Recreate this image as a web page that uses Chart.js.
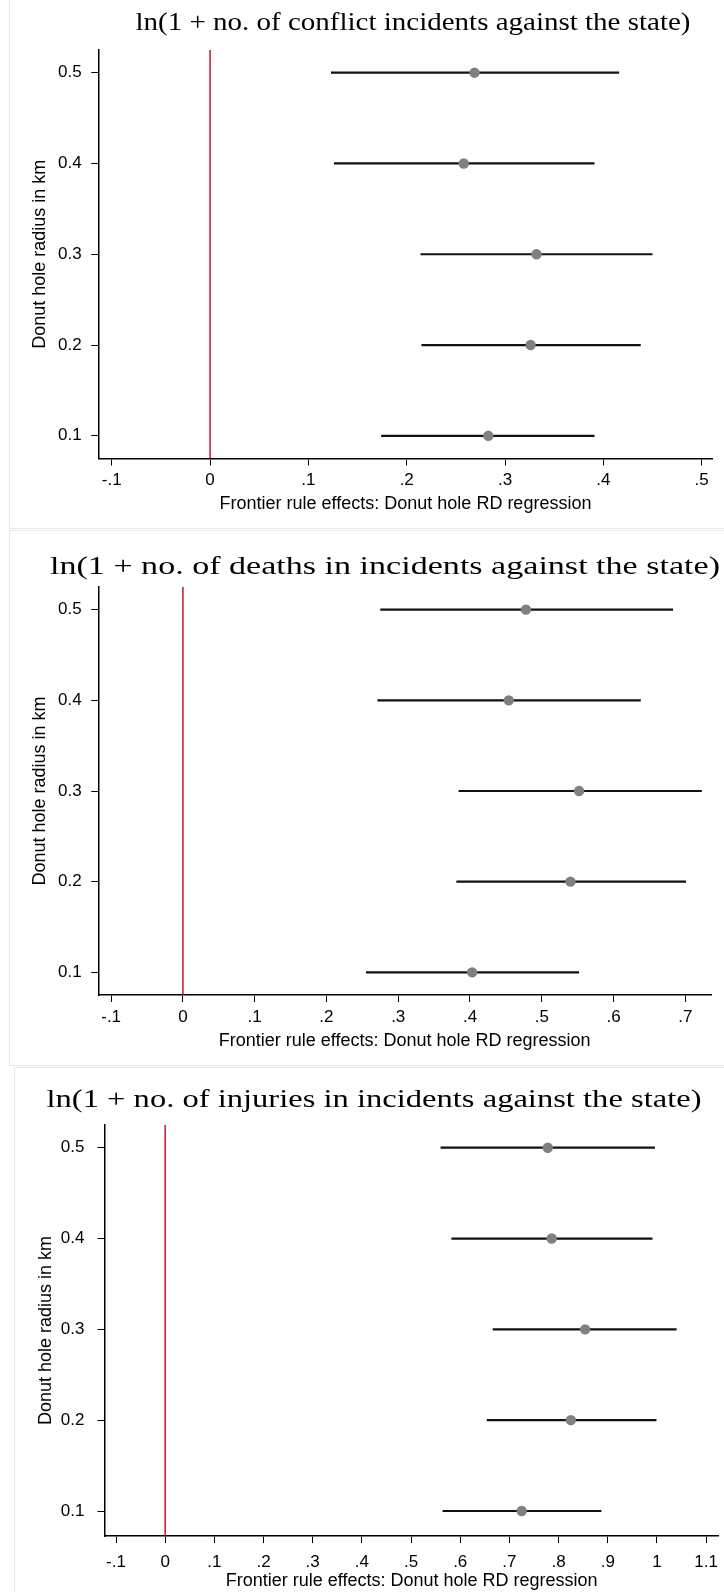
<!DOCTYPE html>
<html>
<head>
<meta charset="utf-8">
<script src="https://cdn.jsdelivr.net/npm/chart.js@4.4.1/dist/chart.umd.min.js"></script>
<style>
  html, body { margin: 0; padding: 0; background: #fff; }
  body { width: 724px; height: 1592px; position: relative; overflow: hidden; }
  .marco { position: absolute; border: 1px solid #e3e9ec; box-sizing: border-box; }
  canvas { position: absolute; left: 0; }
  .titulo { position: absolute; font-family: "Liberation Serif", serif; font-size: 26px; white-space: nowrap; color: #000; line-height: 1; transform-origin: 50% 50%; }
</style>
</head>
<body>
<div class="marco" style="left:9px; top:-2px; width:800px; height:531px;"></div>
<div class="marco" style="left:9px; top:530px; width:800px; height:536px;"></div>
<div class="marco" style="left:14px; top:1067px; width:800px; height:600px;"></div>

<canvas id="g1" width="724" height="530" style="top:0px"></canvas>
<canvas id="g2" width="724" height="536" style="top:530px"></canvas>
<canvas id="g3" width="724" height="526" style="top:1066px"></canvas>

<div class="titulo" id="t1" style="left:413px; top:22px;">ln(1 + no. of conflict incidents against the state)</div>
<div class="titulo" id="t2" style="left:385px; top:566px;">ln(1 + no. of deaths in incidents against the state)</div>
<div class="titulo" id="t3" style="left:374px; top:1099px;">ln(1 + no. of injuries in incidents against the state)</div>

<script>
// radio del hoyo (eje y)
const radios = [0.1, 0.2, 0.3, 0.4, 0.5];
const etiquetasY = ["0.1", "0.2", "0.3", "0.4", "0.5"];

// panel 1: incidentes de conflicto
const conflictoEst = [0.283, 0.326, 0.332, 0.258, 0.269];
const conflictoLo  = [0.174, 0.215, 0.214, 0.126, 0.123];
const conflictoHi  = [0.391, 0.438, 0.450, 0.391, 0.416];

// panel 2: muertes
const muertesEst = [0.403, 0.540, 0.552, 0.454, 0.478];
const muertesLo  = [0.255, 0.381, 0.384, 0.271, 0.275];
const muertesHi  = [0.552, 0.701, 0.723, 0.638, 0.683];

// panel 3: heridos
const heridosEst = [0.725, 0.825, 0.854, 0.786, 0.778];
const heridosLo  = [0.564, 0.654, 0.666, 0.582, 0.560];
const heridosHi  = [0.887, 0.999, 1.040, 0.991, 0.996];

const ticksX1 = [-0.1, 0, 0.1, 0.2, 0.3, 0.4, 0.5];
const etiquetasX1 = ["-.1", "0", ".1", ".2", ".3", ".4", ".5"];
const ticksX2 = [-0.1, 0, 0.1, 0.2, 0.3, 0.4, 0.5, 0.6, 0.7];
const etiquetasX2 = ["-.1", "0", ".1", ".2", ".3", ".4", ".5", ".6", ".7"];
const ticksX3 = [-0.1, 0, 0.1, 0.2, 0.3, 0.4, 0.5, 0.6, 0.7, 0.8, 0.9, 1, 1.1];
const etiquetasX3 = ["-.1", "0", ".1", ".2", ".3", ".4", ".5", ".6", ".7", ".8", ".9", "1", "1.1"];

const lineaCero = 0;
const tituloX = "Frontier rule effects: Donut hole RD regression";
const tituloY = "Donut hole radius in km";

Chart.defaults.font.family = "'Liberation Sans', Arial, sans-serif";
Chart.defaults.color = "#000";

// estira el titulo a lo ancho sin cambiar su alto
function ajustarTitulo(id, ancho) {
    const el = document.getElementById(id);
    const w = el.getBoundingClientRect().width;
    el.style.transform = "translate(-50%, -50%) scaleX(" + (ancho / w) + ")";
}

function dibujarPanel(id, p) {
    const datasets = [];

    datasets.push({
        type: 'line',
        data: [{ x: lineaCero, y: p.yMin }, { x: lineaCero, y: p.yMax }],
        borderColor: '#c8102e',
        borderWidth: 1.5,
        pointRadius: 0,
        showLine: true,
        order: 3
    });

    radios.forEach((r, i) => {
        datasets.push({
            type: 'line',
            data: [{ x: p.lo[i], y: r }, { x: p.hi[i], y: r }],
            borderColor: '#111',
            borderWidth: 2.2,
            pointRadius: 0,
            showLine: true,
            order: 2
        });
    });

    datasets.push({
        type: 'scatter',
        data: radios.map((r, i) => ({ x: p.est[i], y: r })),
        backgroundColor: '#808080',
        borderWidth: 0,
        pointRadius: 5.2,
        order: 1
    });

    const alto = document.getElementById(id).height;

    new Chart(document.getElementById(id), {
        type: 'scatter',
        data: { datasets },
        options: {
            responsive: false,
            animation: false,
            events: [],
            layout: { padding: { top: p.top, right: 724 - p.right, left: 0, bottom: 0 } },
            plugins: { legend: { display: false }, tooltip: { enabled: false } },
            scales: {
                x: {
                    type: 'linear',
                    min: p.xMin,
                    max: p.xMax,
                    afterBuildTicks: s => { s.ticks = p.ticks.map(v => ({ value: v })); },
                    afterFit: s => {
                        s.height = alto - p.bottom;
                        s.paddingLeft = 0;
                        s.paddingRight = 0;
                    },
                    ticks: {
                        autoSkip: false,
                        maxRotation: 0,
                        padding: p.xPad,
                        font: { size: 17 },
                        callback: (v, i) => p.etiquetas[i]
                    },
                    grid: { drawOnChartArea: false, drawTicks: true, tickLength: 7, color: '#000', lineWidth: 1 },
                    border: { display: true, color: '#000', width: 1.5 },
                    title: {
                        display: true,
                        text: tituloX,
                        font: { size: 18 },
                        padding: { top: 0, bottom: p.xTitlePad }
                    }
                },
                y: {
                    type: 'linear',
                    min: p.yMin,
                    max: p.yMax,
                    afterBuildTicks: s => { s.ticks = radios.map(v => ({ value: v })); },
                    afterFit: s => {
                        s.width = p.left;
                        s.paddingTop = 0;
                        s.paddingBottom = 0;
                    },
                    ticks: {
                        padding: p.yPad,
                        font: { size: 17 },
                        callback: (v, i) => etiquetasY[i]
                    },
                    grid: { drawOnChartArea: false, drawTicks: true, tickLength: 7, color: '#000', lineWidth: 1 },
                    border: { display: true, color: '#000', width: 1.5 },
                    title: {
                        display: true,
                        text: tituloY,
                        font: { size: 18 },
                        padding: { top: p.yTitlePad, bottom: 0 }
                    }
                }
            }
        }
    });
}

dibujarPanel("g1", {
    est: conflictoEst, lo: conflictoLo, hi: conflictoHi,
    ticks: ticksX1, etiquetas: etiquetasX1,
    xMin: -0.1137, xMax: 0.5112, yMin: 0.075, yMax: 0.525,
    top: 50, bottom: 458.5, left: 98.3, right: 712.7,
    xPad: 5, yPad: 9.6, xTitlePad: 15, yTitlePad: 29
});

dibujarPanel("g2", {
    est: muertesEst, lo: muertesLo, hi: muertesHi,
    ticks: ticksX2, etiquetas: etiquetasX2,
    xMin: -0.1179, xMax: 0.7358, yMin: 0.075, yMax: 0.525,
    top: 57, bottom: 465, left: 98.3, right: 711,
    xPad: 5, yPad: 9.6, xTitlePad: 14, yTitlePad: 29
});

dibujarPanel("g3", {
    est: heridosEst, lo: heridosLo, hi: heridosHi,
    ticks: ticksX3, etiquetas: etiquetasX3,
    xMin: -0.1234, xMax: 1.1258, yMin: 0.0725, yMax: 0.525,
    top: 59, bottom: 470, left: 104.5, right: 720,
    xPad: 9, yPad: 13, xTitlePad: 0, yTitlePad: 35
});

ajustarTitulo("t1", 555);
ajustarTitulo("t2", 670);
ajustarTitulo("t3", 655);
</script>
</body>
</html>
